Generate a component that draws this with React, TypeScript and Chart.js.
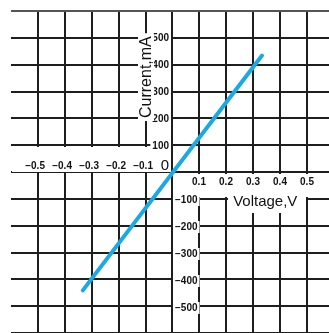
import React, { useEffect, useRef } from 'react';
import { Chart, registerables } from 'chart.js';

Chart.register(...registerables);

// ---- data ----
const voltage = [-0.333, 0.333];
const current = [-435, 435];
const negVoltageTicks = [-0.5, -0.4, -0.3, -0.2, -0.1];
const posVoltageTicks = [0.1, 0.2, 0.3, 0.4, 0.5];
const posCurrentTicks = [100, 200, 300, 400, 500];
const negCurrentTicks = [-100, -200, -300, -400, -500];
const xTitle = 'Voltage,V';
const yTitle = 'Current,mA';
const originLabel = '0';

const FONT = '"Liberation Sans", Arial, sans-serif';
const GRID = '#1e1e1e';
const TEXT = '#111';

const fmtV = (v: number) => (v < 0 ? '\u2212' : '') + Math.abs(v).toFixed(1);
const fmtI = (v: number) => (v < 0 ? '\u2212' : '') + String(Math.abs(v));

type Item = { text: string; x: number; y: number; align: CanvasTextAlign; font: string };

const labelPlugin = {
  id: 'axisLabels',
  beforeDatasetsDraw(chart: any) {
    const { ctx, scales } = chart;
    const xs = scales.x;
    const ys = scales.y;
    const X = (v: number) => Math.round(xs.getPixelForValue(v));
    const Y = (v: number) => Math.round(ys.getPixelForValue(v));
    const x0 = X(0);
    const y0 = Y(0);
    const items: Item[] = [];
    const boxes: number[][] = [];

    // white bands along the axis for tick labels
    const lx = X(-0.6) + 1;
    const ty = Y(100) + 1;
    boxes.push([lx, ty, x0 - 1 - lx, y0 - 1 - ty]);
    const by = Y(-100);
    boxes.push([x0 + 1, y0 + 1, xs.right - x0 - 1, by - y0 - 4]);

    const addBox = (text: string, x: number, y: number, align: CanvasTextAlign, font: string, padX: number, h: number) => {
      ctx.font = font;
      const w = ctx.measureText(text).width;
      let left = x;
      if (align === 'center') left = x - w / 2;
      else if (align === 'right') left = x - w;
      if (h > 0) boxes.push([left - padX, y - h / 2, w + 2 * padX, h]);
      items.push({ text, x, y, align, font });
    };

    const tickFont = `bold 10px ${FONT}`;
    ctx.font = tickFont;
    negVoltageTicks.forEach((v) => {
      const w = ctx.measureText(Math.abs(v).toFixed(1)).width;
      addBox(fmtV(v), X(v) + w / 2, y0 - 7, 'right', tickFont, 0, 0);
    });
    posVoltageTicks.forEach((v) => {
      addBox(fmtV(v), X(v), y0 + 9, 'center', tickFont, 0, 0);
    });
    posCurrentTicks.forEach((v) => {
      addBox(fmtI(v), x0 - 3, Y(v), 'right', tickFont, 2, 12);
    });
    negCurrentTicks.forEach((v) => {
      addBox(fmtI(v), x0 + 3, Y(v), 'left', tickFont, 2, 12);
    });
    addBox(originLabel, x0 - 7, y0 - 8, 'center', `15px ${FONT}`, 0, 0);

    // x title box
    const tcy = Y(-100) + 1;
    boxes.push([X(0.2) + 2, y0 + 1, X(0.5) - X(0.2) - 3, tcy + 11 - y0]);
    items.push({ text: xTitle, x: xs.getPixelForValue(0.345), y: tcy, align: 'center', font: `15px ${FONT}` });

    ctx.save();
    ctx.fillStyle = '#fff';
    boxes.forEach(([bx, byy, bw, bh]) => ctx.fillRect(bx, byy, bw, bh));
    ctx.fillStyle = TEXT;
    ctx.textBaseline = 'middle';
    items.forEach((it) => {
      ctx.font = it.font;
      ctx.textAlign = it.align;
      ctx.fillText(it.text, it.x, it.y + 0.5);
    });

    // y title rotated
    ctx.translate(X(-0.1), ys.getPixelForValue(355));
    ctx.rotate(-Math.PI / 2);
    ctx.font = `16px ${FONT}`;
    const yw = ctx.measureText(yTitle).width;
    ctx.fillStyle = '#fff';
    ctx.fillRect(-yw / 2 - 3, -8, yw + 6, 16);
    ctx.fillStyle = TEXT;
    ctx.textAlign = 'center';
    ctx.textBaseline = 'middle';
    ctx.fillText(yTitle, 0, 1);
    ctx.restore();
  },
};

const edgeColor = (edge: number) => (c: any) =>
  c.tick && Math.abs(c.tick.value - edge) < 1e-6 ? '#555' : GRID;

export default function App() {
  const ref = useRef<HTMLCanvasElement | null>(null);
  useEffect(() => {
    if (!ref.current) return;
    const chart = new Chart(ref.current, {
      type: 'scatter',
      data: {
        datasets: [
          {
            data: voltage.map((v, i) => ({ x: v, y: current[i] })),
            showLine: true,
            borderColor: '#1aa9e5',
            borderWidth: 4,
            borderCapStyle: 'round',
            pointRadius: 0,
            fill: false,
          } as any,
        ],
      },
      options: {
        responsive: false,
        animation: false,
        layout: { padding: { left: 11, top: 11, right: 0, bottom: 0 } },
        plugins: { legend: { display: false }, tooltip: { enabled: false } },
        scales: {
          x: {
            type: 'linear',
            min: -0.6,
            max: 0.582,
            afterFit: (s: any) => {
              s.height = 0;
            },
            ticks: { display: false, stepSize: 0.1, includeBounds: false } as any,
            grid: { color: edgeColor(-0.6), lineWidth: 2, drawTicks: false },
            border: { display: false },
          },
          y: {
            type: 'linear',
            min: -593,
            max: 600,
            afterFit: (s: any) => {
              s.width = 0;
            },
            ticks: { display: false, stepSize: 100, includeBounds: false } as any,
            grid: { color: edgeColor(600), lineWidth: 2, drawTicks: false },
            border: { display: false },
          },
        },
      } as any,
      plugins: [labelPlugin],
    });
    return () => chart.destroy();
  }, []);
  return (
    <div style={{ position: 'fixed', left: 0, top: 0, width: 329, height: 333, background: '#fff' }}>
      <canvas ref={ref} width={329} height={333} style={{ display: 'block' }} />
    </div>
  );
}
